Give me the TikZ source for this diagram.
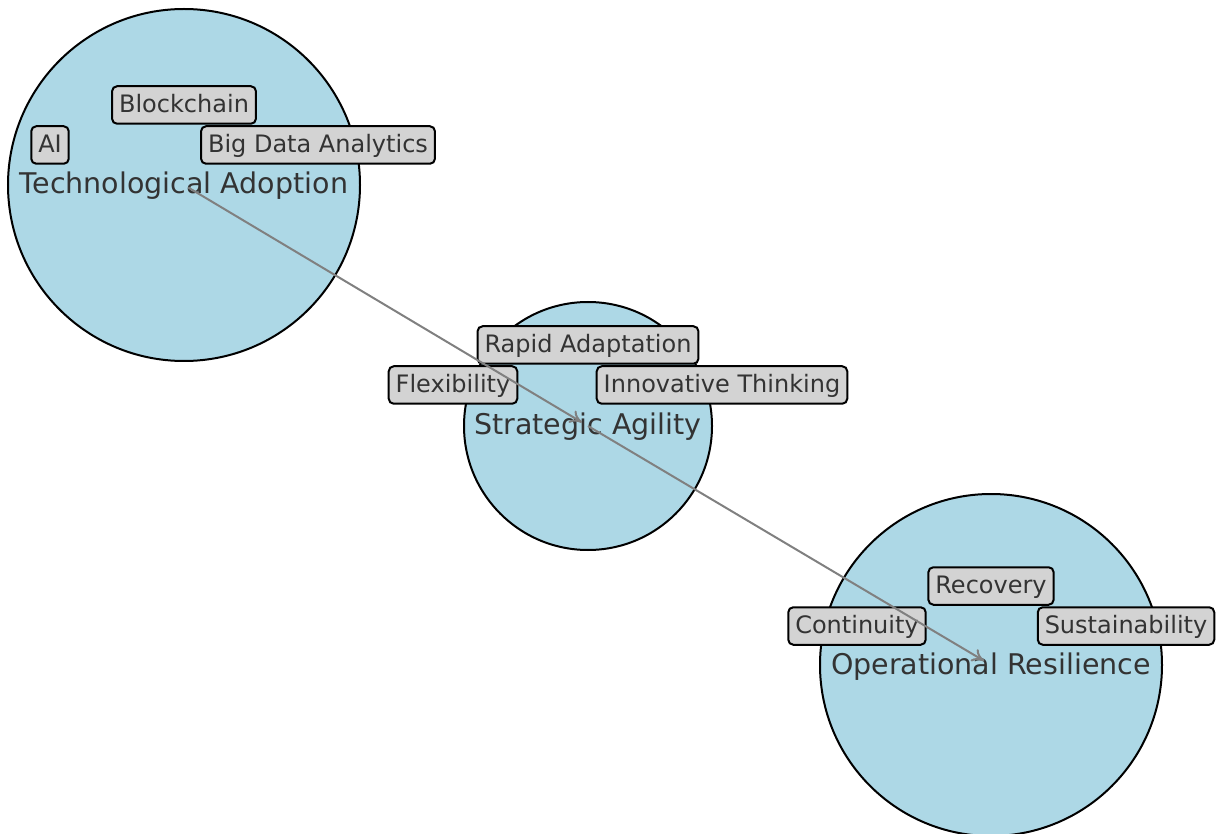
\documentclass[tikz,border=0pt]{standalone}
\usepackage{fontspec}
\setmainfont{DejaVu Sans}
\usetikzlibrary{arrows.meta}
\definecolor{circleblue}{HTML}{ADD8E6}
\definecolor{tagfill}{HTML}{D3D3D3}
\definecolor{labelgray}{HTML}{333333}
\definecolor{arrowgray}{HTML}{808080}

\begin{document}
\begin{tikzpicture}[x=1pt, y=-1pt
	, every node/.style={text=labelgray}
	, area/.style={
		circle
		, draw
		, line width=2pt
		, fill=circleblue
		, inner sep=0pt
		, text height=25pt
		, text depth=7pt
		, font=\fontsize{28.5}{34}\selectfont
	}
	, tag/.style={
		rectangle
		, rounded corners=5pt
		, draw
		, line width=2pt
		, fill=tagfill
		, inner sep=7pt
		, text height=19pt
		, text depth=4.5pt
		, font=\fontsize{24}{29}\selectfont
	}
	, link/.style={
		draw=arrowgray
		, line width=2pt
		, -{To[length=12pt, width=14pt]}
%		, shorten <=4pt
	}
]

\useasboundingbox (0,0) rectangle (1219,834);
\clip (0,0) rectangle (1219,834);

\node[area, minimum size=352pt](tech) at(184,185) {Technological Adoption};
\node[area, minimum size=248pt](agil) at(588,426) {Strategic Agility};
\node[area, minimum size=342pt](resil) at(991,665) {Operational Resilience};

\foreach [count=\i] \x \y \name in {
	184/105/Blockchain
	, 50/145/AI
	, 318/145/Big Data Analytics
	, 588/345/Rapid Adaptation
	, 453/385/Flexibility
	, 722/385/Innovative Thinking
	, 991/586/Recovery
	, 857/626/Continuity
	, 1126/626/Sustainability
}{
	\node[tag](t\i) at(\x, \y) {\name};
}

\draw[link, shorten <=5pt, shorten >=7pt] (tech.center) -- (agil.center);
\draw[link, shorten <=0pt, shorten >=8pt] (agil.center) -- (resil.center);

\end{tikzpicture}
\end{document}
